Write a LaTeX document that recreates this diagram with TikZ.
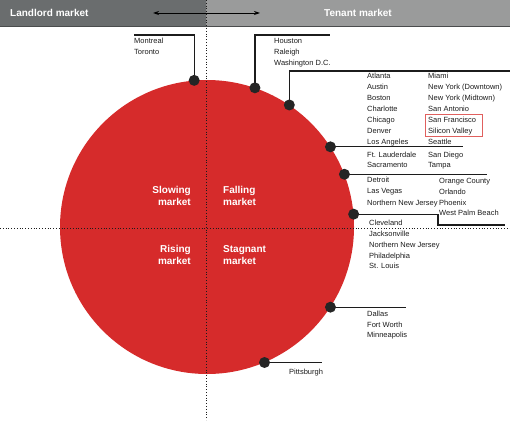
\documentclass[tikz,border=0pt]{standalone}
\usepackage{fontspec}
\setmainfont{Liberation Sans}
\usetikzlibrary{arrows.meta, positioning}
\definecolor{hdark}{HTML}{6A6D6E}
\definecolor{hlight}{HTML}{9A9B9B}
\definecolor{mktred}{HTML}{D62B2B}
\definecolor{ink}{HTML}{1C1C1C}
\definecolor{pinblack}{HTML}{252525}
\definecolor{boxred}{HTML}{E0605E}

\begin{document}
\begin{tikzpicture}[
  x=1pt, y=-1pt,
  >={Stealth[length=6pt, width=4pt]},
  head/.style={font=\fontsize{10}{12}\selectfont\bfseries, text=white, inner sep=0pt},
  quad/.style={font=\fontsize{10}{12}\selectfont\bfseries, text=white, inner sep=0pt},
  city/.style={font=\fontsize{7.5}{11}\selectfont, text=ink, align=left,
    anchor=north west, inner sep=0pt},
  pin/.style={circle, fill=pinblack, minimum size=11pt, inner sep=0pt},
  lead/.style={line width=1.2pt, ink},
  axis/.style={dotted, line width=0.8pt, ink},
]

\useasboundingbox (0,0) rectangle (510,420);

% =============================================
% Header band
% =============================================
\fill[hdark] (0,0) rectangle (206,26);
\fill[hlight] (206,0) rectangle (510,26);
\draw[hdark!70!black, line width=0.6pt] (0,26) -- (510,26);

\node[head, anchor=west] (landlord) at (10,13) {Landlord market};
\node[head, anchor=west] (tenant) at (324,13) {Tenant market};

\coordinate (arrL) at (153,13);
\coordinate (arrR) at (260,13);
\draw[<->, line width=0.9pt, black] (arrL) -- (arrR);

% =============================================
% Market circle
% =============================================
\node[circle, fill=mktred, minimum size=294pt, inner sep=0pt] (mkt) at (207,227) {};

% Quadrant labels
\node[quad, anchor=north east, align=right] (slow) at (191,186) {Slowing\\market};
\node[quad, anchor=north west, align=left] (fall) at (223,186) {Falling\\market};
\node[quad, anchor=north east, align=right] (rise) at (191,245) {Rising\\market};
\node[quad, anchor=north west, align=left] (stag) at (223,245) {Stagnant\\market};

% Dotted axes
\draw[axis] (206,0) -- (206,420);
\draw[axis] (0,228) -- (510,228);

% =============================================
% Pins on the circle
% =============================================
\coordinate (p1) at (mkt.95);
\coordinate (p2) at (mkt.71);
\coordinate (p3) at (mkt.56);
\coordinate (p4) at (mkt.33);
\coordinate (p5) at (mkt.21.6);
\coordinate (p6) at (mkt.5);
\coordinate (p7) at (mkt.-33.8);
\coordinate (p8) at (mkt.-67);

% Leader ends
\coordinate (e1) at (134,35);
\coordinate (e2) at (330,35);
\coordinate (e3) at (510,71);
\coordinate (e4) at (463,0);
\coordinate (e5) at (487,0);
\coordinate (k6) at (438,0);
\coordinate (e6) at (505,225);
\coordinate (e7) at (406,0);
\coordinate (e8) at (322,0);

\draw[lead] (p1) |- (e1);
\draw[lead] (p2) |- (e2);
\draw[lead] (p3) |- (e3);
\draw[lead] (p4) -- (p4 -| e4);
\draw[lead] (p5) -- (p5 -| e5);
\draw[lead] (p6) -- (p6 -| k6) |- (e6);
\draw[lead] (p7) -- (p7 -| e7);
\draw[lead] (p8) -- (p8 -| e8);

\foreach \p in {p1,p2,p3,p4,p5,p6,p7,p8}
  \node[pin] at (\p) {};

% =============================================
% City lists
% =============================================
\node[city] (mont) at (134,38) {Montreal\\Toronto};
\node[city] (hou) at (274,38) {Houston\\Raleigh\\Washington D.C.};

\node[city] (atl) at (367,73)
  {Atlanta\\Austin\\Boston\\Charlotte\\Chicago\\Denver\\Los Angeles};
\node[city] (mia) at (428,73)
  {Miami\\New York (Downtown)\\New York (Midtown)\\San Antonio\\San Francisco\\Silicon Valley\\Seattle};
\draw[boxred, line width=0.9pt] (425,114) rectangle (482,136);

\node[city, font=\fontsize{7.5}{10}\selectfont] (ftl) at (367,152) {Ft. Lauderdale\\Sacramento};
\node[city, font=\fontsize{7.5}{10}\selectfont] (sdg) at (428,152) {San Diego\\Tampa};

\node[city, font=\fontsize{7.5}{11}\selectfont] (det) at (367,177)
  {Detroit\\Las Vegas\\[1pt]Northern New Jersey};
\node[city, font=\fontsize{7.5}{10.8}\selectfont] (ora) at (439,178)
  {Orange County\\Orlando\\Phoenix\\West Palm Beach};

\node[city, font=\fontsize{7.5}{10.8}\selectfont] (cle) at (369,220)
  {Cleveland\\Jacksonville\\Northern New Jersey\\Philadelphia\\St. Louis};

\node[city, font=\fontsize{7.5}{10.5}\selectfont] (dal) at (367,311)
  {Dallas\\Fort Worth\\Minneapolis};
\node[city] (pit) at (289,369) {Pittsburgh};

\end{tikzpicture}
\end{document}
